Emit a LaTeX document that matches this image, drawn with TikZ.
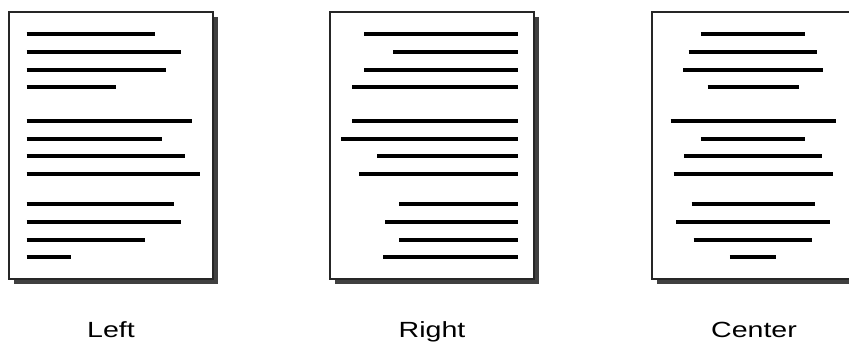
\documentclass[tikz,border=0pt]{standalone}
\usepackage{fontspec}
\setmainfont{Liberation Sans}
\usetikzlibrary{shadows, positioning}
\tikzset{
  page/.style={rectangle, draw=black!85, line width=0.04cm, fill=white, minimum width=4.08cm, minimum height=5.34cm, inner sep=0pt,
    drop shadow={shadow xshift=0.1cm, shadow yshift=-0.1cm, fill=black!75, opacity=1}},
  txtline/.style={line width=0.08cm, black},
  caption/.style={anchor=base, inner sep=0pt, font=\fontsize{12.5}{14}\selectfont}
}
\newcommand{\widetext}[1]{\scalebox{1.3}[1]{#1}}

\begin{document}
\begin{tikzpicture}[x=0.02cm, y=-0.02cm]
\clip (0,0) rectangle (849,347);
\fill[white] (0,0) rectangle (849,347);

% the three pages
\node[page] (leftpage) at (111,145.5) {};
\node[page] (rightpage) at (432,145.5) {};
\node[page] (centerpage) at (754,145.5) {};

% left aligned
\foreach \y/\len in {34/128, 51.7/154, 69.7/139.3, 87.3/89.6,
    120.7/165.3, 138.7/135, 156.3/158.6, 173.7/173.3,
    204.3/147.3, 222/154, 239.7/118.6, 257.3/44.3}
  \draw[txtline] (26.7,\y) -- ++(\len,0);

% right aligned
\foreach \y/\len in {34/154, 51.7/125, 69.7/154, 87.3/165.4,
    120.7/165.4, 138.7/176.7, 156.3/141, 173.7/159,
    204.3/118.7, 222/133, 239.7/118.7, 257.3/134.7}
  \draw[txtline] (517.7,\y) -- ++(-\len,0);

% centered
\foreach \y/\len in {34/104.3, 51.7/128.6, 69.7/139.3, 87.3/91,
    120.7/165, 138.7/104.3, 156.3/138, 173.7/159,
    204.3/123, 222/154, 239.7/118.6, 257.3/46.3}
  \draw[txtline] (753-\len/2,\y) -- ++(\len,0);

% captions
\node[caption] (leftlbl) at (111,338) {\widetext{Left}};
\node[caption] (rightlbl) at (432,338) {\widetext{Right}};
\node[caption] (centerlbl) at (754,338) {\widetext{Center}};
\end{tikzpicture}
\end{document}
